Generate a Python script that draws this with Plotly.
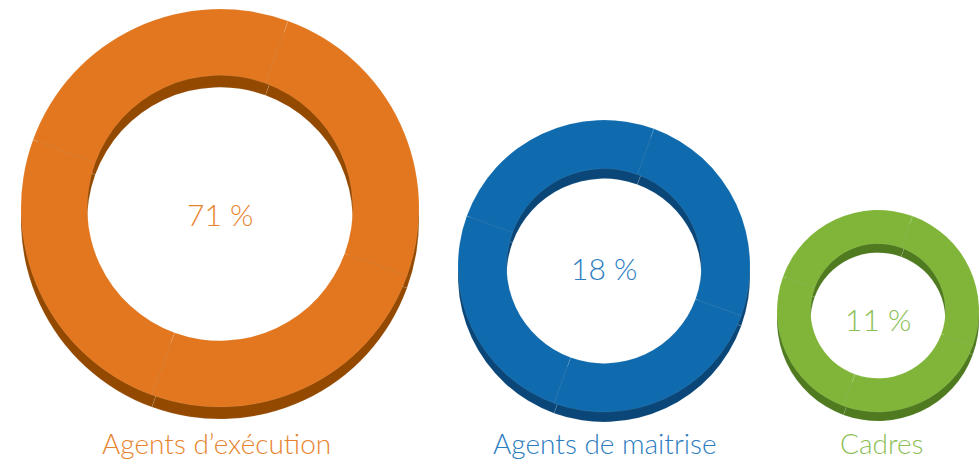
import plotly.graph_objects as go

# ---- data ----
categories = ["Agents d’exécution", "Agents de maitrise", "Cadres"]
percentages = [71, 18, 11]
segments = [25, 25, 25, 25]  # decorative ring divided in 4 equal pieces

# ---- style / layout config ----
W, H = 979, 460
face_colors = ["#E2771F", "#0F6BAE", "#80B53A"]
shadow_colors = ["#934900", "#0A4677", "#4F7A20"]
text_colors = ["#E8842F", "#2C7DC0", "#8CC055"]
centers = [(220, 208), (604, 266), (878, 311)]   # pixel centres (y from top)
pct_y = [214, 268, 319]
label_x = [216, 605, 882]
radii = [199, 146, 101]
depths = [12, 10, 9]
label_y = 443
hole = 0.667
FONT = "Lato, 'Open Sans', sans-serif"


def domain(cx, cy, r):
    x0 = max(0.0, (cx - r) / W)
    x1 = min(1.0, (cx + r) / W)
    y0 = max(0.0, 1 - (cy + r) / H)
    y1 = min(1.0, 1 - (cy - r) / H)
    return dict(x=[x0, x1], y=[y0, y1])


fig = go.Figure()
for i, cat in enumerate(categories):
    cx, cy = centers[i]
    r = radii[i]
    # extruded (shadow) ring
    fig.add_trace(go.Pie(
        values=segments, hole=hole, rotation=20, sort=False,
        domain=domain(cx, cy + depths[i], r),
        marker=dict(colors=[shadow_colors[i]] * len(segments),
                    line=dict(color="rgba(255,255,255,0.2)", width=0.5)),
        textinfo="none", hoverinfo="skip", showlegend=False,
    ))
    # top face ring
    fig.add_trace(go.Pie(
        values=segments, hole=hole, rotation=20, sort=False,
        domain=domain(cx, cy, r),
        marker=dict(colors=[face_colors[i]] * len(segments),
                    line=dict(color="rgba(255,255,255,0.14)", width=0.6)),
        textinfo="none", name=cat,
        hovertemplate=f"{cat}: {percentages[i]} %<extra></extra>",
        showlegend=False,
    ))
    # percentage in the hole
    fig.add_annotation(
        x=cx / W, y=1 - pct_y[i] / H, xref="paper", yref="paper",
        text=f"{percentages[i]} %", showarrow=False,
        font=dict(family=FONT, size=30, color=text_colors[i], weight=300),
        xanchor="center", yanchor="middle",
    )
    # category label under the ring
    fig.add_annotation(
        x=label_x[i] / W, y=1 - label_y / H, xref="paper", yref="paper",
        text=cat, showarrow=False,
        font=dict(family=FONT, size=28, color=text_colors[i], weight=300),
        xanchor="center", yanchor="middle",
    )

fig.update_layout(
    width=W, height=H,
    margin=dict(l=0, r=0, t=0, b=0),
    paper_bgcolor="white", plot_bgcolor="white",
    showlegend=False,
)

fig.write_html(
    "out.html",
    config={"displayModeBar": False},
    post_script="document.body.style.margin='0';document.body.style.overflow='hidden';",
)
